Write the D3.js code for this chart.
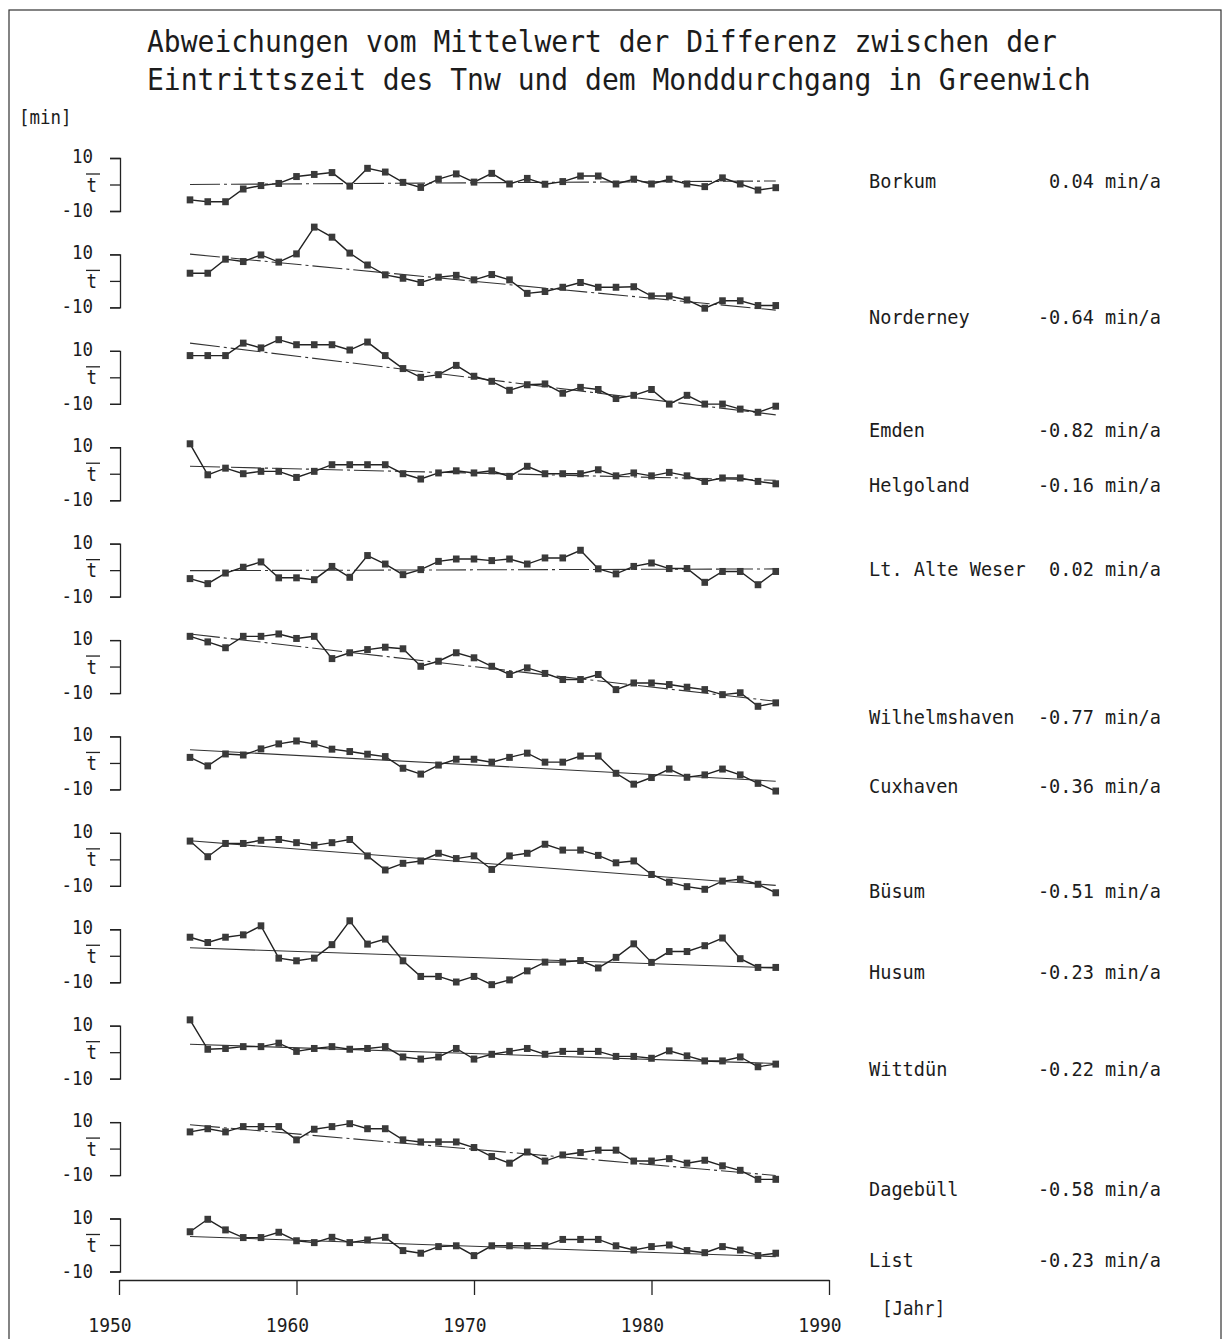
<!DOCTYPE html>
<html>
<head>
<meta charset="utf-8">
<script src="https://cdn.jsdelivr.net/npm/d3@7"></script>
<style>
  body { margin: 0; background: #fff; }
  text { font-family: "DejaVu Sans Mono", monospace; fill: #1c1c1c; }
</style>
</head>
<body>
<div id="chart"></div>
<script>
// years of observation
var years = [1954, 1955, 1956, 1957, 1958, 1959, 1960, 1961, 1962, 1963, 1964, 1965,
  1966, 1967, 1968, 1969, 1970, 1971, 1972, 1973, 1974, 1975, 1976, 1977, 1978,
  1979, 1980, 1981, 1982, 1983, 1984, 1985, 1986, 1987];

var stations = ["Borkum", "Norderney", "Emden", "Helgoland", "Lt. Alte Weser",
  "Wilhelmshaven", "Cuxhaven", "Büsum", "Husum", "Wittdün", "Dagebüll", "List"];

// trend in min/a (right column) and trend value in 1954
var slopes = [0.04, -0.64, -0.82, -0.16, 0.02, -0.77, -0.36, -0.51, -0.23, -0.22, -0.58, -0.23];
var trendStart = [0.0, 10.1, 12.9, 2.8, -0.2, 12.3, 5.0, 7.0, 3.0, 3.0, 9.0, 3.2];

// deviations [min]
var borkum = [-5.8, -6.5, -6.5, -1.7, -0.4, 0.4, 3.0, 3.8, 4.5, -0.6, 6.1, 4.7, 0.8, -1.1, 2.0, 4.0, 0.9,
  4.2, 0.2, 2.3, 0.1, 1.1, 3.2, 3.2, 0.2, 2.0, 0.2, 2.0, 0.2, -0.8, 2.5, 0.2, -2.1, -1.2];
var norderney = [2.9, 2.9, 8.2, 7.3, 9.8, 7.1, 10.2, 20.3, 16.5, 10.5, 6.0, 2.3, 1.0, -0.6, 1.4, 2.1, 0.4,
  2.4, 0.4, -4.7, -4.0, -2.4, -0.6, -2.4, -2.4, -2.2, -5.7, -5.7, -7.2, -10.3, -7.5, -7.5, -9.3, -9.3];
var emden = [8.2, 8.2, 8.2, 12.9, 11.1, 14.2, 12.3, 12.3, 12.3, 10.3, 13.3, 8.2, 3.3, 0.0, 1.0, 4.5, 0.4,
  -1.5, -4.9, -2.8, -2.5, -6.0, -3.8, -4.6, -8.0, -6.8, -4.6, -10.1, -6.8, -10.1, -10.1, -12.0, -13.2, -10.9];
var helgoland = [11.3, -0.4, 2.1, 0.0, 0.9, 0.9, -1.4, 0.9, 3.4, 3.4, 3.4, 3.4, 0.0, -2.0, 0.3, 1.1, 0.3,
  1.1, -1.0, 2.8, 0.0, 0.0, 0.0, 1.5, -0.8, 0.3, -0.8, 0.5, -0.8, -2.9, -1.6, -1.6, -2.9, -3.8];
var alteWeser = [-3.2, -5.1, -1.1, 1.1, 3.1, -2.9, -2.9, -3.6, 1.4, -2.7, 5.5, 2.3, -1.7, 0.2, 3.3, 4.2, 4.2,
  3.6, 4.2, 2.3, 4.6, 4.6, 7.5, 0.5, -1.4, 1.4, 2.7, 0.6, 0.6, -4.6, -0.5, -0.5, -5.5, -0.5];
var wilhelmshaven = [11.4, 9.3, 7.1, 11.4, 11.4, 12.3, 10.6, 11.4, 3.0, 5.2, 6.4, 7.3, 6.7, 0.1, 2.0, 5.2, 3.3,
  0.1, -3.0, -0.5, -2.6, -4.9, -4.9, -3.0, -8.7, -6.2, -6.2, -6.8, -7.8, -8.7, -10.6, -9.9, -15.0, -13.7];
var cuxhaven = [2.1, -1.1, 3.4, 3.0, 5.3, 7.2, 8.3, 7.2, 5.2, 4.3, 3.3, 2.4, -2.0, -4.2, -0.8, 1.4, 1.4,
  0.3, 2.1, 3.7, 0.3, 0.3, 2.6, 2.6, -3.9, -8.0, -5.5, -2.3, -5.4, -4.5, -2.3, -4.5, -7.7, -10.6];
var buesum = [6.9, 1.0, 6.0, 6.0, 7.2, 7.5, 6.3, 5.3, 6.3, 7.5, 1.3, -4.0, -1.5, -0.6, 2.3, 0.3, 1.3,
  -3.8, 1.3, 2.3, 5.7, 3.5, 3.5, 1.5, -1.3, -0.6, -5.7, -8.6, -10.3, -11.3, -8.2, -7.5, -9.4, -12.6];
var husum = [7.0, 5.0, 7.0, 7.9, 11.3, -0.9, -1.9, -0.9, 4.2, 13.2, 4.4, 6.3, -1.9, -7.8, -7.8, -9.9, -7.8,
  -10.9, -9.1, -5.7, -2.4, -2.4, -1.8, -4.6, -0.6, 4.5, -2.5, 1.6, 1.6, 3.8, 6.7, -1.1, -4.4, -4.4];
var wittduen = [12.2, 1.1, 1.4, 2.1, 2.1, 3.4, 0.3, 1.4, 2.1, 1.1, 1.4, 2.1, -1.8, -2.6, -1.8, 1.4, -2.6,
  -0.8, 0.3, 1.4, -0.8, 0.3, 0.3, 0.3, -1.6, -1.6, -2.3, 0.5, -1.4, -3.3, -3.3, -1.8, -5.5, -4.5];
var dagebuell = [6.3, 7.5, 6.3, 8.3, 8.3, 8.3, 3.3, 7.3, 8.3, 9.4, 7.5, 7.5, 3.3, 2.5, 2.5, 2.5, 0.4,
  -3.0, -5.5, -1.3, -4.7, -2.4, -1.5, -0.6, -0.6, -4.7, -4.7, -3.8, -5.5, -4.4, -6.5, -8.2, -11.6, -11.6];
var list = [5.0, 9.7, 5.7, 2.8, 2.8, 4.8, 1.6, 0.9, 2.9, 0.9, 1.9, 2.9, -2.1, -3.1, -0.6, -0.3, -4.0,
  -0.3, -0.3, -0.3, -0.3, 2.1, 2.1, 2.1, -0.3, -1.9, -0.6, 0.0, -2.1, -2.9, -0.6, -1.9, -4.0, -3.1];

var series = [borkum, norderney, emden, helgoland, alteWeser, wilhelmshaven,
  cuxhaven, buesum, husum, wittduen, dagebuell, list];

var yearTicks = [1950, 1960, 1970, 1980, 1990];

// layout
var width = 1225, height = 1339;
var labelY = [188, 324, 437, 492, 576, 724, 793, 898, 979, 1076, 1196, 1267];
var dashed = [true, true, true, true, true, true, false, false, false, false, true, false];

var svg = d3.select("#chart").append("svg")
    .attr("width", width)
    .attr("height", height);

// frame
svg.append("rect")
    .attr("x", 9).attr("y", 10)
    .attr("width", 1212).attr("height", 1340)
    .style("fill", "none")
    .style("stroke", "#333")
    .style("stroke-width", 1.2);

// stretched plotter-like text
function txt(parent, x, y, s, size, sy, anchor) {
    return parent.append("text")
        .attr("transform", "translate(" + x + "," + y + ") scale(1," + sy + ")")
        .attr("text-anchor", anchor || "start")
        .style("font-size", size + "px")
        .text(s);
}

txt(svg, 147, 52, "Abweichungen vom Mittelwert der Differenz zwischen der", 28, 1.08);
txt(svg, 147, 90, "Eintrittszeit des Tnw und dem Monddurchgang in Greenwich", 28, 1.08);
txt(svg, 19, 124, "[min]", 17.5, 1.12);

var x = d3.scaleLinear().domain([1950, 1990]).range([119, 829]);

// zero line of each panel
var panel = d3.scalePoint().domain(stations).range([184.5, 1245]);

var line = d3.line();

stations.forEach(function(name, i) {
    var z = panel(name);
    var y = d3.scaleLinear().domain([-10, 10]).range([z + 26.5, z - 26.5]);
    var g = svg.append("g");

    // y bracket
    var ax = g.append("g")
        .attr("transform", "translate(120,0)")
        .call(d3.axisLeft(y).tickValues([-10, 0, 10]).tickSize(10).tickSizeOuter(10).tickFormat(""));
    ax.selectAll("path, line").style("stroke", "#222").style("stroke-width", 1.3);

    txt(g, 93, y(10) + 5, "10", 17.5, 1.15, "end");
    txt(g, 93, y(-10) + 6, "-10", 17.5, 1.15, "end");
    txt(g, 97, z + 7, "t", 17.5, 1.15, "end");
    g.append("line")
        .attr("x1", 86).attr("x2", 100)
        .attr("y1", z - 10.5).attr("y2", z - 10.5)
        .style("stroke", "#222").style("stroke-width", 1.3);

    // trend
    var t0 = years[0], t1 = years[years.length - 1];
    g.append("path")
        .attr("d", line([[x(t0), y(trendStart[i])],
                         [x(t1), y(trendStart[i] + slopes[i] * (t1 - t0))]]))
        .style("fill", "none")
        .style("stroke", "#333")
        .style("stroke-width", 1.1)
        .style("stroke-dasharray", dashed[i] ? "30,4,3,4" : null);

    // series
    var pts = years.map(function(yr, j) { return [x(yr), y(series[i][j])]; });
    g.append("path")
        .attr("d", line(pts))
        .style("fill", "none")
        .style("stroke", "#222")
        .style("stroke-width", 1.4);

    g.selectAll("rect")
        .data(pts)
        .enter().append("rect")
        .attr("x", function(d) { return d[0] - 3.3; })
        .attr("y", function(d) { return d[1] - 3.5; })
        .attr("width", 6.6)
        .attr("height", 7)
        .style("fill", "#3a3a3a");

    // station label and trend
    txt(g, 869, labelY[i], name, 18.6, 1.07);
    txt(g, 1161, labelY[i], slopes[i].toFixed(2) + " min/a", 18.6, 1.07, "end");
});

// time axis
var xa = svg.append("g")
    .attr("transform", "translate(0,1280)")
    .call(d3.axisBottom(x).tickValues(yearTicks).tickSize(15).tickSizeOuter(0).tickFormat(""));
xa.selectAll("path, line").style("stroke", "#222").style("stroke-width", 1.3);

yearTicks.forEach(function(yr) {
    txt(svg, x(yr) - 9, 1332, String(yr), 18, 1.1, "middle");
});

txt(svg, 882, 1315, "[Jahr]", 17.5, 1.12);
</script>
</body>
</html>
